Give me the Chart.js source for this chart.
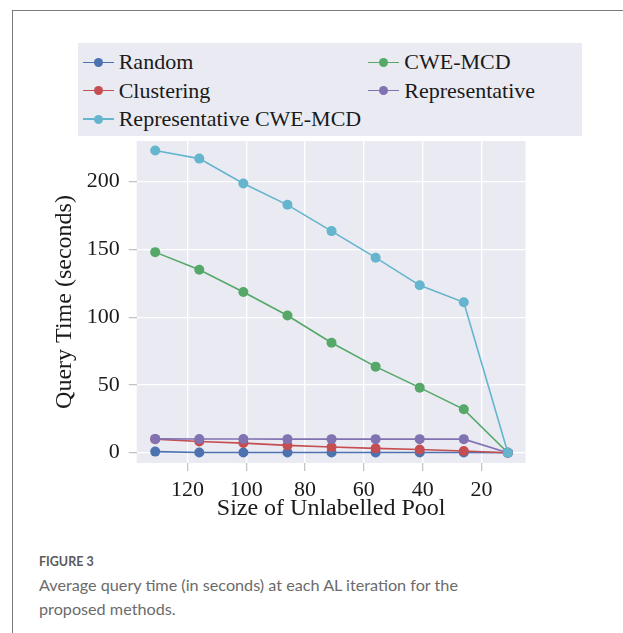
<!DOCTYPE html>
<html lang="en">
<head>
<meta charset="UTF-8" />
<script src="https://cdn.jsdelivr.net/npm/chart.js@4.4.4/dist/chart.umd.min.js"></script>
<style>
  *, *::before, *::after { box-sizing: border-box; margin: 0; padding: 0; }
  body { width: 623px; height: 633px; background: #fff; position: relative; overflow: hidden; font-family: 'Liberation Serif', serif; }
  .frame { position: absolute; left: 12px; top: 10px; right: -2px; bottom: -2px; border-top: 1px solid #7a7a7a; border-left: 1px solid #7a7a7a; }
  .wrap { position: absolute; left: 0; top: 0; width: 623px; height: 540px; }
  .legend { position: absolute; left: 78px; top: 43px; width: 504px; height: 93px; background: #eaeaf2; }
  .item { position: absolute; height: 28px; display: flex; align-items: center; font-family: 'Liberation Serif', serif; font-size: 22px; color: #1a1a1a; white-space: nowrap; }
  .sym { position: relative; width: 31px; height: 28px; margin-right: 5px; flex: none; }
  .sym .ln { position: absolute; left: 0; right: 0; top: 13.25px; height: 1.5px; }
  .sym .dot { position: absolute; left: 11px; top: 9.5px; width: 9px; height: 9px; border-radius: 50%; }
  .caption { position: absolute; left: 39px; font-family: Lato, sans-serif; color: #6b6b6b; }
  .fig { top: 554px; font-size: 12.5px; font-weight: 700; color: #5a5a5a; }
  .text { top: 573px; font-size: 16.2px; line-height: 24px; width: 570px; }
</style>
</head>
<body>
  <div class="frame"></div>
  <div class="wrap"><canvas id="chart"></canvas></div>
  <div class="legend" id="legend"></div>
  <div class="caption fig">FIGURE 3</div>
  <div class="caption text">Average query time (in seconds) at each AL iteration for the<br>proposed methods.</div>

<script>
const poolSize = [131, 116, 101, 86, 71, 56, 41, 26, 11]
const random = [0.8, 0.1, 0.1, 0.1, 0.1, 0.1, 0.1, 0.1, 0]
const cweMcd = [148, 135, 118.6, 101.2, 81.1, 63.5, 48, 32, 0]
const clustering = [10, 8.3, 7.1, 5.4, 4.2, 3.2, 2.4, 1.2, 0]
const representative = [10.2, 10.1, 10.1, 10, 10, 10, 10, 10, 0]
const repCweMcd = [223, 217, 198.7, 182.9, 163.5, 143.9, 123.5, 111, 0]
const xTicks = [120, 100, 80, 60, 40, 20]
const yTicks = [0, 50, 100, 150, 200]

const series = [
  {label: 'Random', data: random, color: '#4c72b0', order: 4, col: 0, row: 0},
  {label: 'CWE-MCD', data: cweMcd, color: '#55a868', order: 3, col: 1, row: 0},
  {label: 'Clustering', data: clustering, color: '#c44e52', order: 2, col: 0, row: 1},
  {label: 'Representative', data: representative, color: '#8172b2', order: 1, col: 1, row: 1},
  {label: 'Representative CWE-MCD', data: repCweMcd, color: '#64b5cd', order: 0, col: 0, row: 2},
]

// legend box (two columns, like the original)
const legend = document.getElementById('legend')
series.forEach((s) => {
  const el = document.createElement('div')
  el.className = 'item'
  el.style.left = (s.col ? 290.3 : 4.7) + 'px'
  el.style.top = (19.3 + s.row * 28.35 - 14) + 'px'
  el.innerHTML = `<span class="sym"><span class="ln" style="background:${s.color}"></span><span class="dot" style="background:${s.color}"></span></span>${s.label}`
  legend.appendChild(el)
})

const serif = 'Liberation Serif'

new Chart(document.getElementById('chart'), {
  type: 'line',
  data: {
    datasets: series.map((s) => ({
      label: s.label,
      data: poolSize.map((x, i) => ({x, y: s.data[i]})),
      borderColor: s.color,
      backgroundColor: s.color,
      pointBackgroundColor: s.color,
      pointBorderWidth: 0,
      pointRadius: 5,
      borderWidth: 1.6,
      order: s.order,
      tension: 0,
    })),
  },
  plugins: [{
    id: 'bg',
    beforeDraw(chart) {
      const {ctx, chartArea: a} = chart
      ctx.save()
      ctx.fillStyle = '#eaeaf2'
      ctx.fillRect(a.left, a.top, a.right - a.left, a.bottom - a.top)
      ctx.restore()
    },
  }],
  options: {
    responsive: true,
    maintainAspectRatio: false,
    animation: false,
    layout: {padding: {top: 141, right: 97.5, left: 0, bottom: 0}},
    plugins: {legend: {display: false}, tooltip: {enabled: false}},
    scales: {
      x: {
        type: 'linear',
        reverse: true,
        min: 5,
        max: 137.3,
        afterBuildTicks: (s) => { s.ticks = xTicks.map((v) => ({value: v})) },
        afterFit: (s) => { s.height = 77 },
        border: {display: false},
        grid: {color: '#ffffff', lineWidth: 1.3, tickLength: 8, tickColor: '#c0c0c0', tickWidth: 1.2},
        ticks: {font: {family: serif, size: 22}, color: '#1a1a1a', padding: 6, maxRotation: 0},
        title: {display: true, text: 'Size of Unlabelled Pool', font: {family: serif, size: 24}, color: '#1a1a1a', padding: {top: 0, bottom: 16.6}},
      },
      y: {
        min: -7.6,
        max: 230,
        afterBuildTicks: (s) => { s.ticks = yTicks.map((v) => ({value: v})) },
        afterFit: (s) => { s.width = 136.7 },
        border: {display: false},
        grid: {color: '#ffffff', lineWidth: 1.3, tickLength: 8, tickColor: '#c0c0c0', tickWidth: 1.2},
        ticks: {font: {family: serif, size: 22}, color: '#1a1a1a', padding: 9},
        title: {display: true, text: 'Query Time (seconds)', font: {family: serif, size: 24}, color: '#1a1a1a', padding: {top: 50.6, bottom: 0}},
      },
    },
  },
})
</script>
</body>
</html>
